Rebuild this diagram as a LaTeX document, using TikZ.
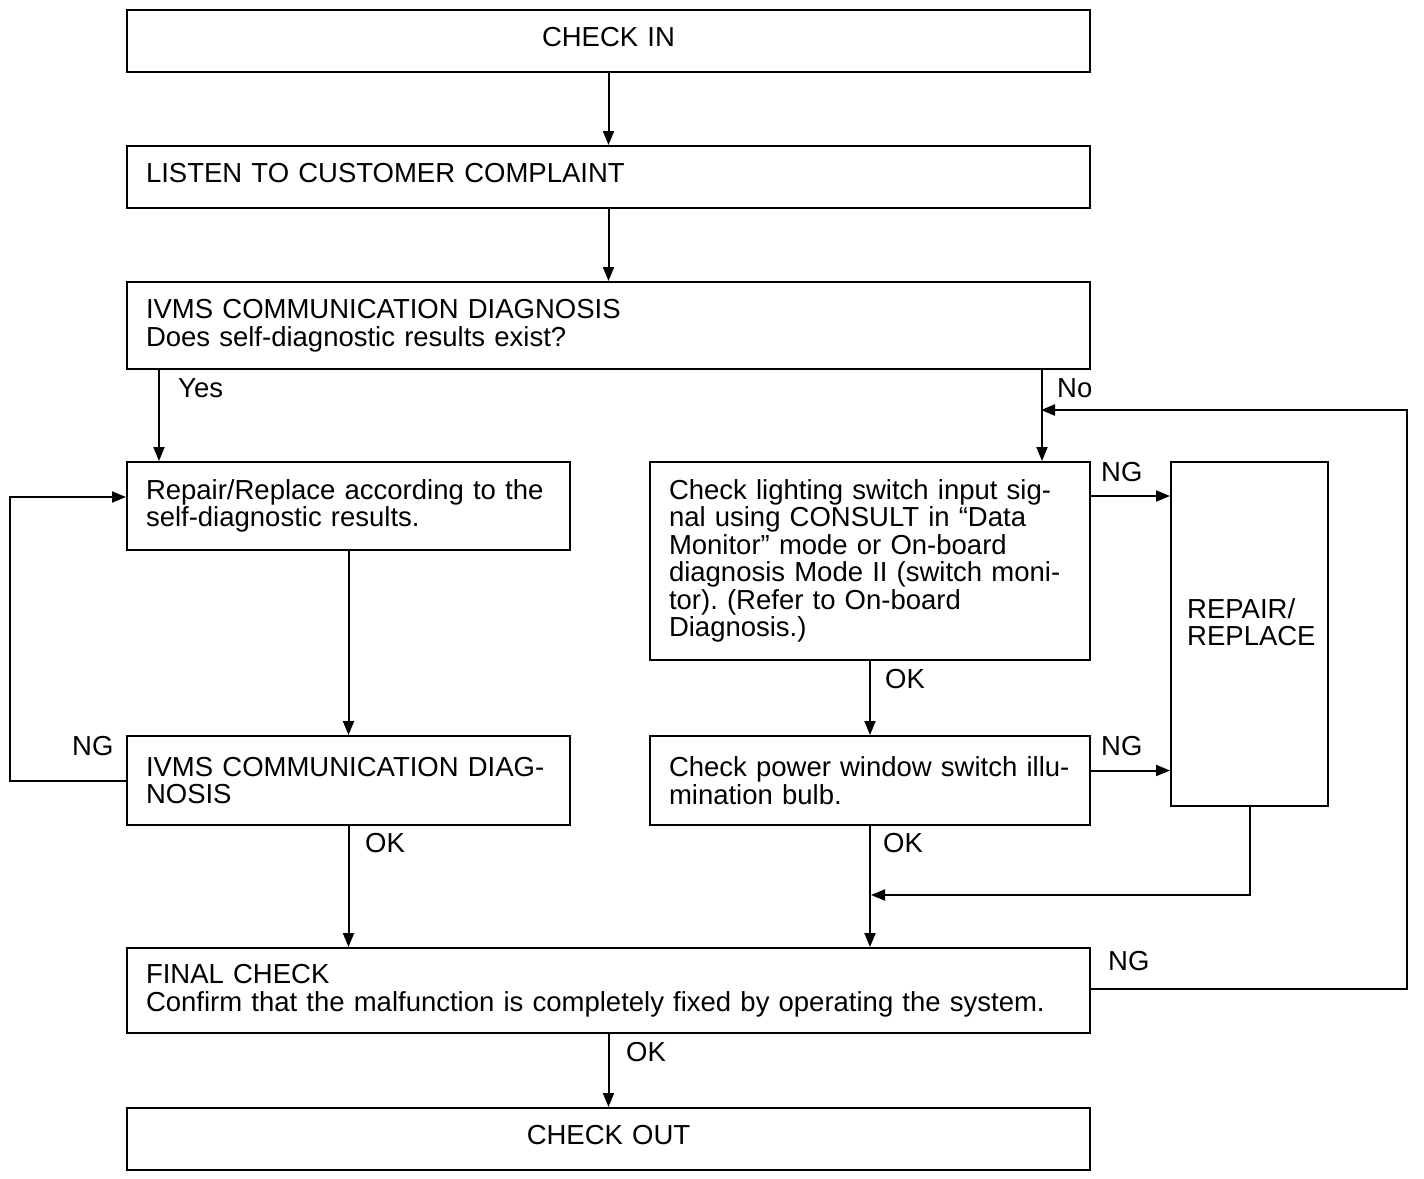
\documentclass[tikz,border=0pt]{standalone}
\usepackage{fontspec}
\setmainfont{Liberation Sans}
\usetikzlibrary{arrows.meta}
\frenchspacing
\newcommand{\uptext}[1]{\raisebox{4pt}[\height][\depth]{#1}}
\begin{document}
\begin{tikzpicture}[x=1pt,y=-1pt,
  every node/.style={font=\fontsize{27.5}{27.5}\selectfont},
  box/.style={draw,line width=2pt,rectangle,inner xsep=19pt,inner ysep=0pt},
  lbox/.style={box,align=left},
  cbox/.style={box,align=center},
  arr/.style={line width=2pt,-{Triangle[length=14pt,width=11pt]}},
  lab/.style={anchor=base west,inner sep=0pt}]
\useasboundingbox (0,0) rectangle (1424,1178);
% boxes
\node[cbox,minimum width=963pt,minimum height=62pt,text width=925pt] (checkin) at (608.5,41) {\uptext{CHECK IN}};
\node[lbox,minimum width=963pt,minimum height=62pt,text width=925pt] (listen) at (608.5,177) {\uptext{LISTEN TO CUSTOMER COMPLAINT}};
\node[lbox,minimum width=963pt,minimum height=87pt,text width=925pt] (ivms) at (608.5,325.5) {IVMS COMMUNICATION DIAGNOSIS\\Does self-diagnostic results exist?};
\node[lbox,minimum width=443pt,minimum height=88pt,text width=405pt] (repair) at (348.5,506) {Repair/Replace according to the\\self-diagnostic results.};
\node[lbox,minimum width=440pt,minimum height=198pt,text width=402pt] (lighting) at (870,561) {\mbox{Check lighting switch input sig-}\\\mbox{nal using CONSULT in “Data}\\\mbox{Monitor” mode or On-board}\\\mbox{diagnosis Mode II (switch moni-}\\\mbox{tor). (Refer to On-board}\\\mbox{Diagnosis.)}};
\node[box,minimum width=157pt,minimum height=344pt] (rr) at (1249.5,634) {};
\node[anchor=north west,align=left,inner sep=0pt] (rrtext) at (1187,598) {REPAIR/\\REPLACE};
\node[lbox,minimum width=443pt,minimum height=89pt,text width=405pt] (ivms2) at (348.5,780.5) {IVMS COMMUNICATION DIAG-\\NOSIS};
\node[lbox,minimum width=440pt,minimum height=89pt,text width=402pt] (power) at (870,780.5) {\mbox{Check power window switch illu-}\\mination bulb.};
\node[lbox,minimum width=963pt,minimum height=85pt,text width=925pt] (final) at (608.5,990.5) {FINAL CHECK\\\mbox{Confirm that the malfunction is completely fixed by operating the system.}};
\node[cbox,minimum width=963pt,minimum height=62pt,text width=925pt] (checkout) at (608.5,1139) {\uptext{CHECK OUT}};
% junction coordinates
\coordinate (nojoin) at (1041,410);
\coordinate (loopc) at (1407,410);
\coordinate (ngl) at (10,497);
\coordinate (rrjoin) at (871,895);
% connectors
\draw[arr] (checkin.south) -- (listen.north);
\draw[arr] (listen.south) -- (ivms.north);
\draw[arr] ([xshift=33pt]ivms.south west) -- ([xshift=33pt]repair.north west);
\draw[arr] ([xshift=-49pt]ivms.south east) -- ([xshift=-49pt]lighting.north east);
\draw[arr] ([yshift=2pt]final.east) -| (loopc) -- (nojoin);
\draw[arr] (repair.south) -- (ivms2.north);
\draw[arr] (ivms2.west) -- (ivms2.west -| ngl) |- ([yshift=9pt]repair.west);
\draw[arr] ([yshift=-35pt]lighting.north east) -- ([yshift=-35pt]rr.north west);
\draw[arr] (lighting.south) -- (power.north);
\draw[arr] ([yshift=10pt]power.east) -- ([yshift=10pt]power.east -| rr.west);
\draw[arr] (power.south) -- (power.south |- final.north);
\draw[arr] (ivms2.south) -- (ivms2.south |- final.north);
\draw[arr] (rr.south) |- (rrjoin);
\draw[arr] (final.south) -- (checkout.north);
% labels
\node[lab] (lyes) at (178,397) {Yes};
\node[lab] (lno) at (1057,397) {No};
\node[lab] (lng1) at (1101,481) {NG};
\node[lab] (lng2) at (72,755) {NG};
\node[lab] (lok1) at (885,688) {OK};
\node[lab] (lng3) at (1101,755) {NG};
\node[lab] (lok2) at (365,852) {OK};
\node[lab] (lok3) at (883,852) {OK};
\node[lab] (lng4) at (1108,970) {NG};
\node[lab] (lok4) at (626,1061) {OK};
\end{tikzpicture}
\end{document}
